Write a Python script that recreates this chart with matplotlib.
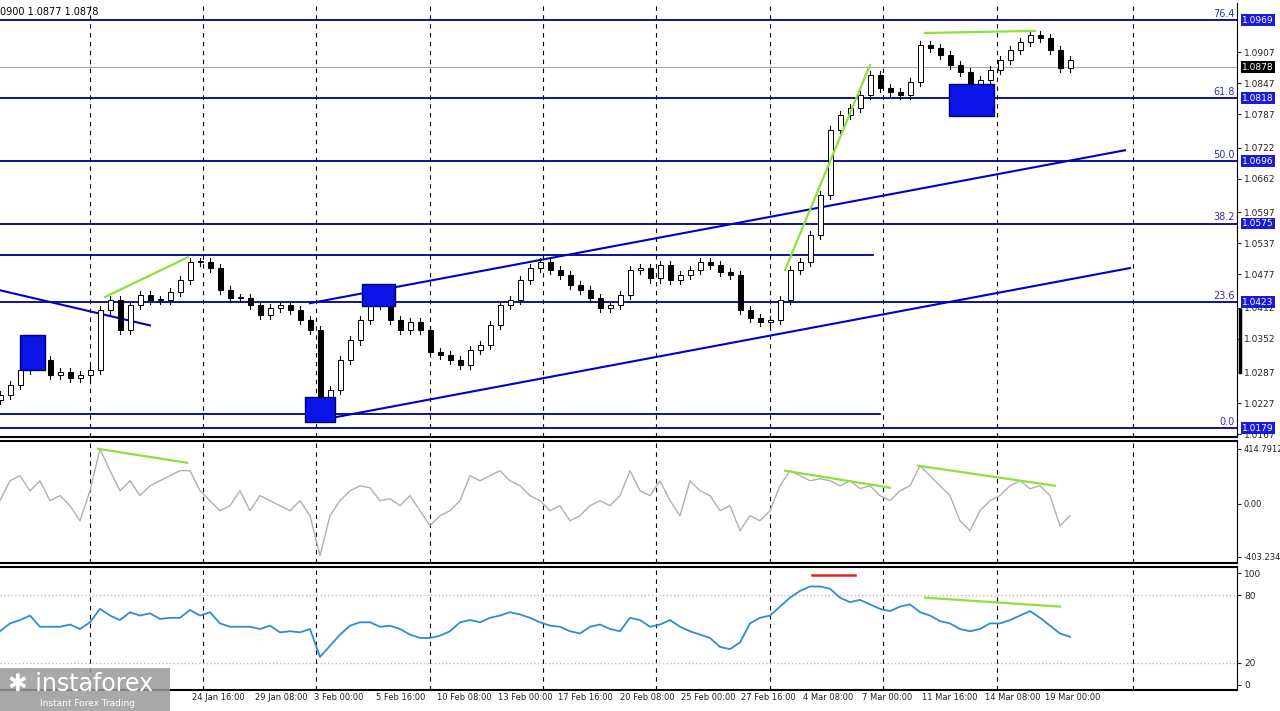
import matplotlib
matplotlib.use("Agg")
import matplotlib.pyplot as plt
import matplotlib.transforms as mtransforms
from matplotlib.patches import Rectangle
import numpy as np

closes = [1.0243,1.0262,1.0291,1.0320,1.0311,1.0282,1.0288,1.0276,1.0282,1.0291,
1.0408,1.0427,1.0369,1.0417,1.0437,1.0427,1.0427,1.0442,1.0466,1.0501,
1.0501,1.0489,1.0446,1.0431,1.0431,1.0417,1.0398,1.0411,1.0417,1.0408,
1.0388,1.0369,1.0224,1.0253,1.0311,1.0349,1.0388,1.0423,1.0417,1.0388,
1.0369,1.0384,1.0369,1.0326,1.0320,1.0311,1.0301,1.0330,1.0340,1.0379,
1.0417,1.0427,1.0466,1.0489,1.0501,1.0485,1.0475,1.0456,1.0446,1.0431,
1.0411,1.0417,1.0437,1.0485,1.0489,1.0469,1.0495,1.0466,1.0475,1.0485,
1.0501,1.0495,1.0481,1.0475,1.0408,1.0392,1.0384,1.0388,1.0427,1.0485,
1.0501,1.0553,1.0630,1.0756,1.0785,1.0799,1.0824,1.0863,1.0837,1.0830,
1.0824,1.0849,1.0921,1.0915,1.0901,1.0882,1.0868,1.0843,1.0853,1.0872,
1.0892,1.0911,1.0926,1.0940,1.0934,1.0911,1.0876,1.0892]

cci = [23,174,212,98,174,23,61,-15,-129,98,415,250,98,174,61,136,174,212,250,250,
98,23,-53,-15,98,-53,61,23,-15,-53,23,-91,-394,-91,23,98,136,121,23,38,
-15,61,-53,-167,-91,-53,23,212,174,212,250,174,136,61,23,-53,-15,-129,-91,-15,
23,-15,61,250,98,61,174,23,-91,174,98,61,-53,-15,-204,-91,-129,-53,136,250,
212,174,189,174,136,174,114,136,61,23,98,136,288,212,136,61,-129,-204,-53,23,
61,136,174,114,136,61,-167,-91]

rsi = [48,55,58,62,52,52,52,54,50,56,68,62,58,65,62,64,59,60,60,67,
62,65,55,52,52,52,50,53,47,48,47,50,25,35,45,53,56,56,52,53,
50,45,42,42,44,48,56,58,56,60,62,65,63,60,56,53,52,48,46,52,
54,50,48,60,58,52,54,58,52,48,45,42,34,32,38,55,60,62,70,78,
84,88,88,86,78,74,76,72,68,66,70,72,65,62,57,55,50,48,50,55,
55,58,62,66,60,53,46,43]

fib_levels = [1.0969, 1.0818, 1.0696, 1.0575, 1.0423, 1.0179]
fib_names = ["76.4", "61.8", "50.0", "38.2", "23.6", "0.0"]
price_ticks = [1.0907,1.0847,1.0787,1.0722,1.0662,1.0597,1.0537,1.0477,1.0412,1.0352,1.0287,1.0227,1.0167]
current = 1.0878
date_labels = ["24 Jan 16:00","29 Jan 08:00","3 Feb 00:00","5 Feb 16:00","10 Feb 08:00",
"13 Feb 00:00","17 Feb 16:00","20 Feb 08:00","25 Feb 00:00","27 Feb 16:00",
"4 Mar 08:00","7 Mar 00:00","11 Mar 16:00","14 Mar 08:00","19 Mar 00:00"]
date_pos = [192,255,314,376,437,498,558,620,681,741,803,862,922,985,1045]
grid_x = [90,203,316,430,543,656,770,883,997,1133]

W, H = 1280, 711
fig = plt.figure(figsize=(12.8, 7.11), dpi=100)
fig.patch.set_facecolor("white")
def ax_px(top, bot):
    return fig.add_axes([0, 1-bot/H, 1237/W, (bot-top)/H])
ax = ax_px(3, 437)
ax2 = ax_px(441, 563)
ax3 = ax_px(567, 690)
NAVY = "#00008b"
XMAX = 1237
for a in (ax, ax2, ax3):
    a.set_xlim(0, XMAX)
    a.set_xticks([])
    for s in ["left", "top"]:
        a.spines[s].set_visible(False)
    a.spines["right"].set_color("black")
    a.spines["bottom"].set_color("black")
    a.spines["bottom"].set_linewidth(1.5)
    for gx in grid_x:
        a.axvline(gx, color="black", ls=(0, (4, 4)), lw=0.8, zorder=0)
    a.yaxis.tick_right()
    a.tick_params(axis="y", labelsize=6.5, length=3, pad=2, colors="#222")
ax2.spines["top"].set_visible(True); ax2.spines["top"].set_linewidth(1.5)
ax3.spines["top"].set_visible(True); ax3.spines["top"].set_linewidth(1.5)

ax.set_ylim(1.0162, 1.1002)
x = np.arange(len(closes)) * 10
opens = [closes[0] - 0.001] + closes[:-1]
for xi, o, c in zip(x, opens, closes):
    hi = max(o, c) + 0.0008; lo = min(o, c) - 0.0008
    ax.plot([xi, xi], [lo, hi], color="black", lw=0.8, zorder=3)
    ax.add_patch(Rectangle((xi-2.5, min(o, c)), 5, max(abs(c-o), 0.0002),
                 facecolor="white" if c >= o else "black", edgecolor="black", lw=0.7, zorder=4))

for lv in fib_levels:
    ax.axhline(lv, color=NAVY, lw=1.3, zorder=2)
ax.axhline(current, color="#aaaaaa", lw=0.8, zorder=1)
ax.plot([0, 873], [1.0515, 1.0515], color=NAVY, lw=1.3)
ax.plot([0, 880], [1.0206, 1.0206], color=NAVY, lw=1.3)
ax.plot([318, 1130], [1.0194, 1.0489], color="#0000cc", lw=1.5)
ax.plot([310, 1125], [1.0421, 1.0717], color="#0000cc", lw=1.5)
ax.plot([0, 150], [1.0446, 1.0378], color="#0000cc", lw=1.5)
G = "#8ee03a"
ax.plot([105, 188], [1.0433, 1.0510], color=G, lw=1.6, zorder=5)
ax.plot([785, 870], [1.0485, 1.0882], color=G, lw=1.6, zorder=5)
ax.plot([925, 1035], [1.0944, 1.0948], color=G, lw=1.6, zorder=5)
for (x0, x1, y0, y1) in [(20, 45, 1.0291, 1.0359), (305, 335, 1.0191, 1.0239),
                         (362, 395, 1.0415, 1.0458), (949, 994, 1.0783, 1.0845)]:
    ax.add_patch(Rectangle((x0, y0), x1-x0, y1-y0, facecolor="#0a14e6", edgecolor="#000070", zorder=6))

ax.set_yticks(price_ticks)
ax.set_yticklabels([f"{v:.4f}" for v in price_ticks])
tr = mtransforms.blended_transform_factory(ax.transAxes, ax.transData)
for lv, nm in zip(fib_levels, fib_names):
    ax.text(0.998, lv + 0.0003, nm, transform=tr, ha="right", va="bottom", fontsize=7, color="#3333aa")
    ax.text(1.004, lv, f"{lv:.4f}", transform=tr, ha="left", va="center", fontsize=6.5, color="white",
            bbox=dict(boxstyle="square,pad=0.15", fc="#1a1adb", ec="none"), zorder=10, clip_on=False)
ax.text(1.004, current, f"{current:.4f}", transform=tr, ha="left", va="center", fontsize=6.5, color="white",
        bbox=dict(boxstyle="square,pad=0.15", fc="black", ec="none"), zorder=10, clip_on=False)
ax.plot([1.0025, 1.0025], [1.0287, 1.0407], transform=tr, color="black", lw=2.5, clip_on=False)
ax.text(0.0, 0.99, "0900 1.0877 1.0878", transform=ax.transAxes, fontsize=7, va="top", ha="left")

ax2.set_ylim(-449, 475)
ax2.plot(np.arange(len(cci)) * 10, cci, color="#b0b0b0", lw=1.0)
ax2.plot([98, 187], [416, 310], color=G, lw=1.6)
ax2.plot([785, 890], [250, 121], color=G, lw=1.6)
ax2.plot([918, 1055], [288, 136], color=G, lw=1.6)
ax2.set_yticks([414.7912, 0, -403.2349])
ax2.set_yticklabels(["414.7912", "0.00", "-403.2349"], fontsize=6)

ax3.set_ylim(-4.5, 105.4)
ax3.axhline(80, color="#bbbbbb", ls=":", lw=1)
ax3.axhline(20, color="#bbbbbb", ls=":", lw=1)
ax3.plot(np.arange(len(rsi)) * 10, rsi, color="#2a8fd0", lw=1.3)
ax3.plot([812, 855], [98, 98], color="#dd2222", lw=1.8)
ax3.plot([925, 1060], [78, 70], color=G, lw=1.6)
ax3.set_yticks([100, 80, 20, 0])

for p, lab in zip(date_pos, date_labels):
    fig.text(p/W, 1-698/H, lab, fontsize=6, ha="left", va="center", color="#222")

# logo
fig.patches.append(Rectangle((0, 1-711/H), 170/W, 43/H, transform=fig.transFigure,
                             facecolor="#9a9a9a", alpha=0.85, edgecolor="none"))
fig.text(8/W, 1-684/H, "✱ instaforex", fontsize=17, color="white", va="center")
fig.text(40/W, 1-703/H, "Instant Forex Trading", fontsize=6.5, color="white", va="center")

fig.savefig("out.png", dpi=100)
